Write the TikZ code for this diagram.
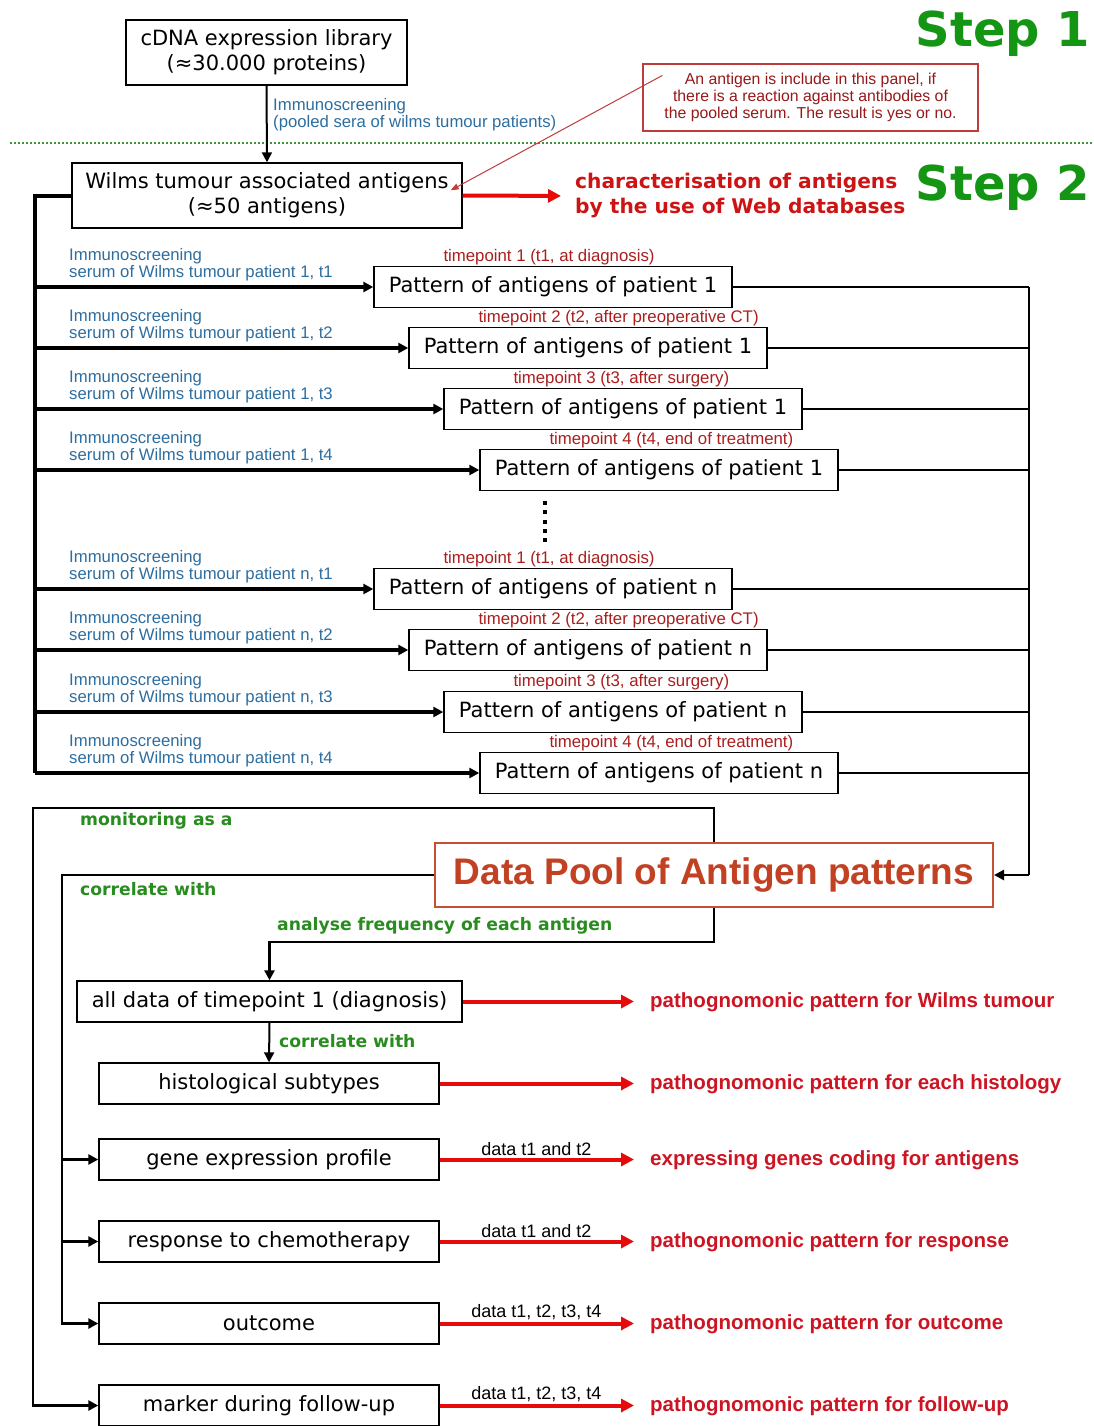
\documentclass[tikz,border=0pt]{standalone}
\usepackage{fontspec}
\setmainfont{DejaVu Sans}
\newfontfamily\lab{Liberation Sans}
\usetikzlibrary{arrows.meta,calc}
\definecolor{stepgreen}{RGB}{20,150,20}
\definecolor{labgreen}{RGB}{40,140,30}
\definecolor{labblue}{RGB}{45,110,160}
\definecolor{tpred}{RGB}{170,30,30}
\definecolor{arrred}{RGB}{230,10,10}
\definecolor{resred}{RGB}{205,20,35}
\definecolor{charred}{RGB}{205,20,20}
\definecolor{poolborder}{RGB}{200,80,50}
\definecolor{pooltext}{RGB}{195,65,35}
\definecolor{annred}{RGB}{190,60,60}
\definecolor{anntext}{RGB}{150,25,25}
\definecolor{dotgreen}{RGB}{60,150,60}
\newcommand\tptext[1]{\ifcase#1\or timepoint 1 (t1, at diagnosis)\or timepoint 2 (t2, after preoperative CT)\or timepoint 3 (t3, after surgery)\or timepoint 4 (t4, end of treatment)\fi}
\tikzset{
  box/.style={draw=black, line width=1.4pt, fill=white, inner sep=0pt, align=center, font=\fontsize{21}{25}\selectfont},
  pbox/.style={box, minimum width=358pt, minimum height=41pt},
  bbox/.style={box, minimum width=340pt, minimum height=41pt},
  bluelab/.style={text=labblue, font=\lab\fontsize{16.7}{17}\selectfont, align=left, anchor=west, inner sep=0pt},
  tplab/.style={text=tpred, font=\lab\fontsize{16.8}{18}\selectfont, inner sep=0pt},
  glab/.style={text=labgreen, font=\bfseries\fontsize{17.2}{20}\selectfont, anchor=west, inner sep=0pt},
  reslab/.style={text=resred, font=\lab\bfseries\fontsize{20.5}{24}\selectfont, anchor=west, inner sep=0pt},
  dlab/.style={text=black, font=\lab\fontsize{18}{20}\selectfont, inner sep=2pt},
  blktip/.style={-{Triangle[length=10pt,width=10pt]}},
  rowarr/.style={line width=3.2pt, blktip},
  rline/.style={line width=2pt},
  bline/.style={line width=2.6pt},
  redarr/.style={draw=arrred, line width=4pt, -{Triangle[length=13pt,width=13pt]}}
}
\begin{document}
\begin{tikzpicture}[x=1pt,y=-1pt]
\fill[white] (0,0) rectangle (1094,1426);
\useasboundingbox (0,0) rectangle (1094,1426);

% Step labels
\node[text=stepgreen, font=\bfseries\fontsize{48}{50}\selectfont, inner sep=0pt] (step1) at (1003,34) {Step 1};
\node[text=stepgreen, font=\bfseries\fontsize{48}{50}\selectfont, inner sep=0pt] (step2) at (1003,188) {Step 2};

% dotted separator
\coordinate (dl) at (10,143);
\coordinate (dr) at (1094,143);
\draw[dotgreen, line width=2pt, dash pattern=on 2pt off 2pt] (dl) -- (dr);

% top boxes
\node[box, minimum width=281pt, minimum height=65pt] (cdna) at (266.5,52.5) {cDNA expression library\\(≈30.000 proteins)};
\node[box, minimum width=390pt, minimum height=65pt] (wilms) at (267,195.5) {Wilms tumour associated antigens\\(≈50 antigens)};
\draw[line width=2pt, blktip] (cdna.south) -- (wilms.north);
\node[bluelab] (imm0) at (273,115) {Immunoscreening\\(pooled sera of wilms tumour patients)};

% annotation
\node[draw=annred, line width=1.2pt, minimum width=335pt, minimum height=67pt, text=anntext, align=center, font=\lab\fontsize{15.8}{17}\selectfont, inner sep=0pt] (ann) at (810.5,97.5) {An antigen is include in this panel, if\\there is a reaction against antibodies of\\the pooled serum. The result is yes or no.};
\coordinate (annstart) at ($(ann.north west)+(20,12)$);
\coordinate (annend) at ($(wilms.north east)+(-12,28)$);
\draw[annred, line width=1pt, -{Triangle[length=8pt,width=6pt]}] (annstart) -- (annend);

% characterisation
\node[text=charred, font=\bfseries\fontsize{20.2}{25}\selectfont, align=left, anchor=west, inner sep=0pt] (char) at (575,196) {characterisation of antigens\\by the use of Web databases};
\draw[redarr, shorten >=14pt] (wilms.east) -- (char.west);

% left bracket
\coordinate (L0) at (35,195);
\coordinate (Lb) at (35,773);
\draw[line width=4pt, line join=miter] (wilms.west) -| (Lb);

% right collector
\coordinate (R0) at (1029,287);
\coordinate (Rb) at (1029,875);

\foreach \i/\yy/\xl/\pat/\t in {1/287/374/1/1,2/348/409/1/2,3/409/444/1/3,4/470/480/1/4,5/589/374/n/1,6/650/409/n/2,7/712/444/n/3,8/773/480/n/4}{
  \node[pbox] (p\i) at (\xl+179,\yy) {Pattern of antigens of patient \pat};
  \node[tplab, anchor=base west, xshift=70pt, yshift=4pt] (tp\i) at (p\i.north west) {\tptext{\t}};
  \node[bluelab] (bl\i) at (69,\yy-22) {Immunoscreening\\serum of Wilms tumour patient \pat, t\t};
  \draw[rowarr] (p\i.west -| L0) -- (p\i.west);
  \draw[rline] (p\i.east) -- (p\i.east -| R0);
}

% dots
\foreach \d in {503,512,522,531,540}{
  \fill (543,\d-2) rectangle (547,\d+2);
}

% data pool
\node[draw=poolborder, line width=2pt, fill=white, minimum width=558pt, minimum height=64pt, inner sep=0pt, text=pooltext, font=\lab\bfseries\fontsize{37}{40}\selectfont] (pool) at (714,875) {Data Pool of Antigen patterns};
\draw[rline] (R0) -- (Rb);
\draw[line width=2.6pt, blktip] (Rb) -- (pool.east);

% bottom boxes
\node[box, minimum width=385pt, minimum height=41pt] (alldata) at (269.5,1001.5) {all data of timepoint 1 (diagnosis)};
\node[bbox] (hist) at (269,1083.5) {histological subtypes};
\node[bbox] (gene) at (269,1159.5) {gene expression profile};
\node[bbox] (resp) at (269,1241.5) {response to chemotherapy};
\node[bbox] (outc) at (269,1323.5) {outcome};
\node[bbox] (mark) at (269,1405.5) {marker during follow-up};

% green labels
\node[glab] (gm) at (80,821) {monitoring as a};
\node[glab] (gc) at (80,889) {correlate with};
\node[glab] (ga) at (277,926) {analyse frequency of each antigen};
\node[glab] (gc2) at (279,1041) {correlate with};

% bottom connectors
\coordinate (M1) at (33,808);
\draw[bline, blktip] (pool.north) |- (M1) |- (mark.west);
\coordinate (C1) at (62,875);
\draw[bline, blktip] (pool.west) -- (C1) |- (outc.west);
\draw[bline, blktip] (gene.west -| C1) -- (gene.west);
\draw[bline, blktip] (resp.west -| C1) -- (resp.west);
\coordinate (A1) at (269.5,942);
\draw[bline, blktip] (pool.south) |- (A1) -- (alldata.north);
\draw[line width=2pt, blktip] (alldata.south) -- (hist.north);

% results
\node[reslab] (r1) at (650,1002) {pathognomonic pattern for Wilms tumour};
\node[reslab] (r2) at (650,1084) {pathognomonic pattern for each histology};
\node[reslab] (r3) at (650,1160) {expressing genes coding for antigens};
\node[reslab] (r4) at (650,1242) {pathognomonic pattern for response};
\node[reslab] (r5) at (650,1324) {pathognomonic pattern for outcome};
\node[reslab] (r6) at (650,1406) {pathognomonic pattern for follow-up};

\draw[redarr, shorten >=16pt] (alldata.east) -- (alldata.east -| r1.west);
\draw[redarr, shorten >=16pt] (hist.east) -- (hist.east -| r2.west);
\draw[redarr, shorten >=16pt] (gene.east) -- (gene.east -| r3.west) node[dlab, pos=0.46, above] (d3) {data t1 and t2};
\draw[redarr, shorten >=16pt] (resp.east) -- (resp.east -| r4.west) node[dlab, pos=0.46, above] (d4) {data t1 and t2};
\draw[redarr, shorten >=16pt] (outc.east) -- (outc.east -| r5.west) node[dlab, pos=0.46, above] (d5) {data t1, t2, t3, t4};
\draw[redarr, shorten >=16pt] (mark.east) -- (mark.east -| r6.west) node[dlab, pos=0.46, above] (d6) {data t1, t2, t3, t4};
\end{tikzpicture}
\end{document}
